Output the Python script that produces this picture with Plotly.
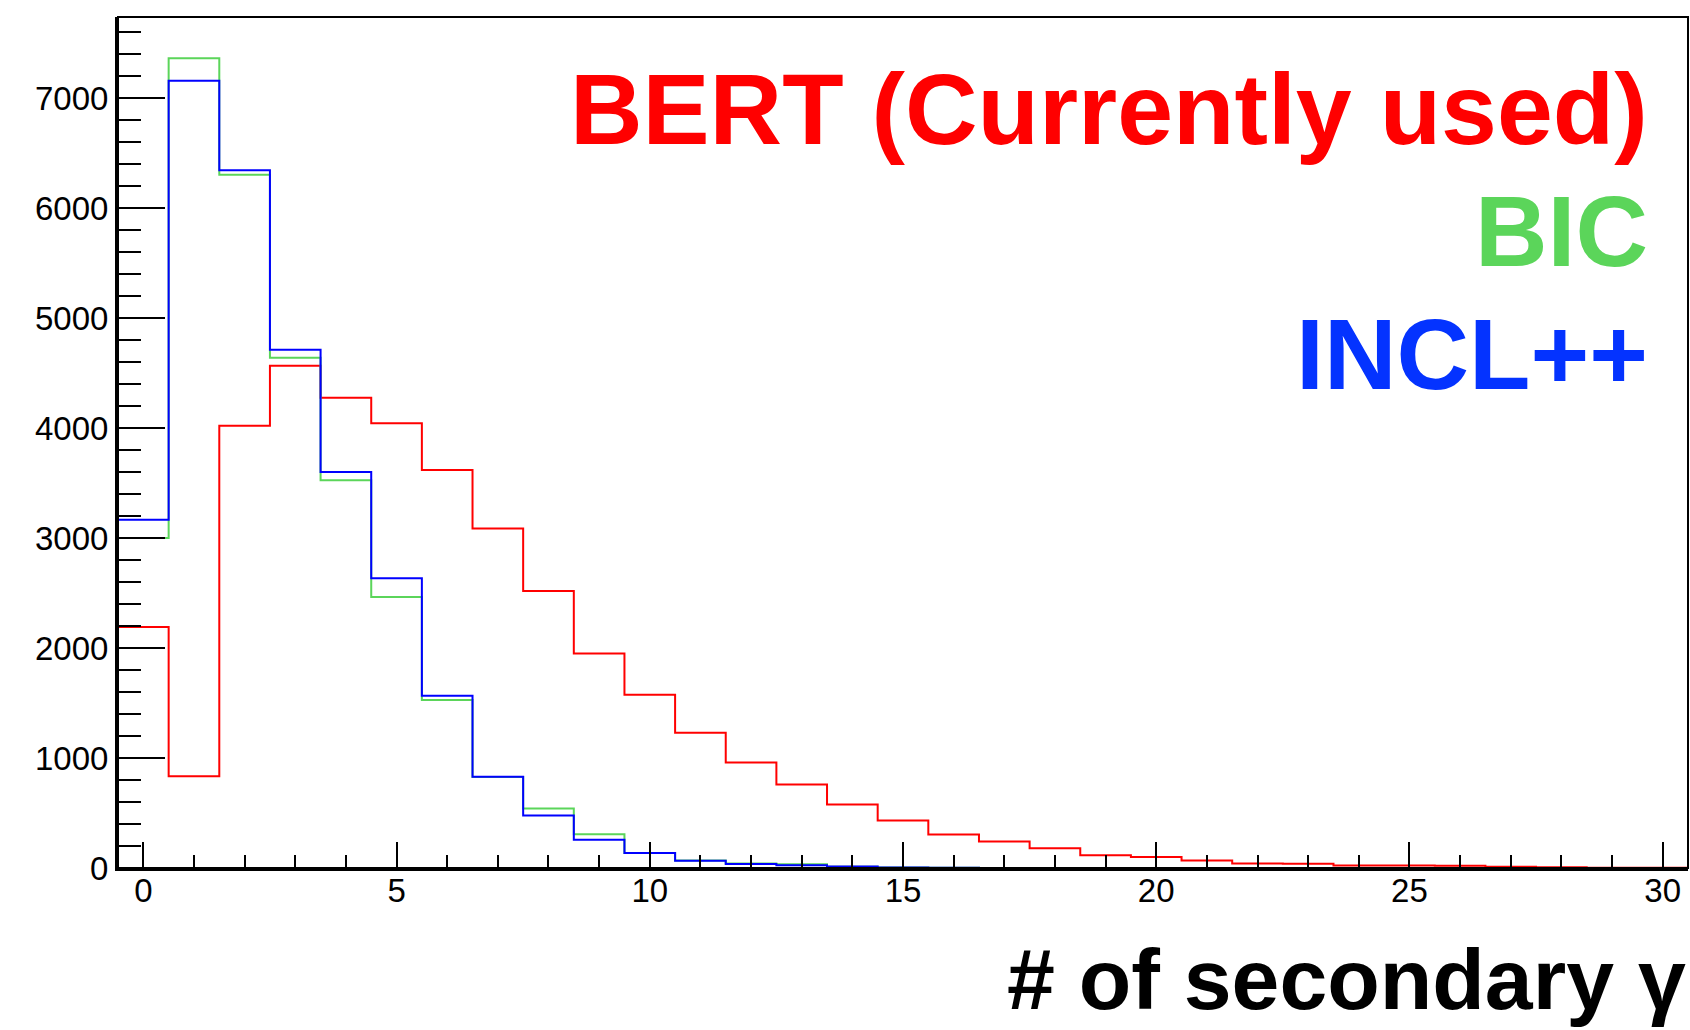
import plotly.graph_objects as go

# ---- data ----
bin_centers = list(range(0, 31))
bert = [2190, 833, 4021, 4566, 4275, 4043, 3618, 3087, 2518, 1951, 1576,
        1230, 960, 760, 578, 432, 304, 240, 180, 116, 100, 68, 40, 38,
        22, 22, 20, 12, 6, 3, 2]
bic = [3000, 7360, 6303, 4639, 3524, 2464, 1527, 828, 542, 306, 136,
       68, 40, 33, 12, 4, 2, 1, 0, 0, 0, 0, 0, 0, 0, 0, 0, 0, 0, 0, 0]
incl = [3166, 7157, 6342, 4712, 3600, 2633, 1566, 830, 478, 257, 136,
        66, 36, 24, 14, 5, 2, 1, 0, 0, 0, 0, 0, 0, 0, 0, 0, 0, 0, 0, 0]
series_names = ["BERT (Currently used)", "BIC", "INCL++"]
x_tick_vals = [0, 5, 10, 15, 20, 25, 30]
y_tick_vals = [0, 1000, 2000, 3000, 4000, 5000, 6000, 7000]
x_title = "# of secondary γ"

RED = "#ff0000"
GREEN = "#5bd55a"
BLUE = "#0000ff"
BLUE_TXT = "#0433ff"
FONT = "Liberation Sans, Arial, Helvetica, sans-serif"


def step(vals):
    xs = [c - 0.5 for c in bin_centers] + [bin_centers[-1] + 0.5]
    ys = list(vals) + [vals[-1]]
    return xs, ys


fig = go.Figure()
for vals, col, name in [(bert, RED, series_names[0]),
                        (bic, GREEN, series_names[1]),
                        (incl, BLUE, series_names[2])]:
    xs, ys = step(vals)
    fig.add_trace(go.Scatter(x=xs, y=ys, mode="lines", name=name,
                             line=dict(color=col, width=2, shape="hv"),
                             showlegend=False, hoverinfo="skip"))

fig.update_layout(
    width=1690, height=1030,
    margin=dict(l=118, r=2, t=17, b=162, pad=0),
    paper_bgcolor="white", plot_bgcolor="white",
    font=dict(family=FONT, color="black"),
    xaxis=dict(range=[-0.5, 30.5], showgrid=False, zeroline=False,
               showline=True, linecolor="black", linewidth=3, mirror=False,
               tickmode="array", tickvals=x_tick_vals,
               ticks="inside", ticklen=26, tickwidth=1.8, tickcolor="black",
               tickfont=dict(size=33, family=FONT, color="black"),
               ticklabelstandoff=-9,
               minor=dict(dtick=1, tick0=0, ticks="inside", ticklen=13,
                          tickwidth=1.8, tickcolor="black", showgrid=False)),
    yaxis=dict(range=[0, 7736], showgrid=False, zeroline=False,
               showline=True, linecolor="black", linewidth=3, mirror=False,
               tickmode="array", tickvals=y_tick_vals,
               ticks="inside", ticklen=47, tickwidth=1.8, tickcolor="black",
               tickfont=dict(size=33, family=FONT, color="black"),
               ticklabelstandoff=0,
               minor=dict(dtick=200, tick0=0, ticks="inside", ticklen=23,
                          tickwidth=1.8, tickcolor="black", showgrid=False)),
    shapes=[dict(type="rect", xref="paper", yref="paper", x0=0, x1=1, y0=0, y1=1,
                 line=dict(color="black", width=2), layer="above")],
)

plot_top, plot_bot = 17, 868


def py(ypix):
    return (plot_bot - ypix) / (plot_bot - plot_top)


legend_items = [(series_names[0], RED, 109.4), (series_names[1], GREEN, 230.5),
                (series_names[2], BLUE_TXT, 353.5)]
for txt, col, yc in legend_items:
    fig.add_annotation(text=txt, xref="paper", yref="paper", x=0.9758, y=py(yc),
                       xanchor="right", yanchor="middle", showarrow=False,
                       font=dict(size=100.5, color=col, family=FONT, weight="bold"))

fig.add_annotation(text=x_title, xref="paper", yref="paper", x=1.0, y=py(929),
                   xanchor="right", yanchor="top", showarrow=False,
                   font=dict(size=86, color="black", family=FONT, weight="bold"))

fig.write_html("out.html")
